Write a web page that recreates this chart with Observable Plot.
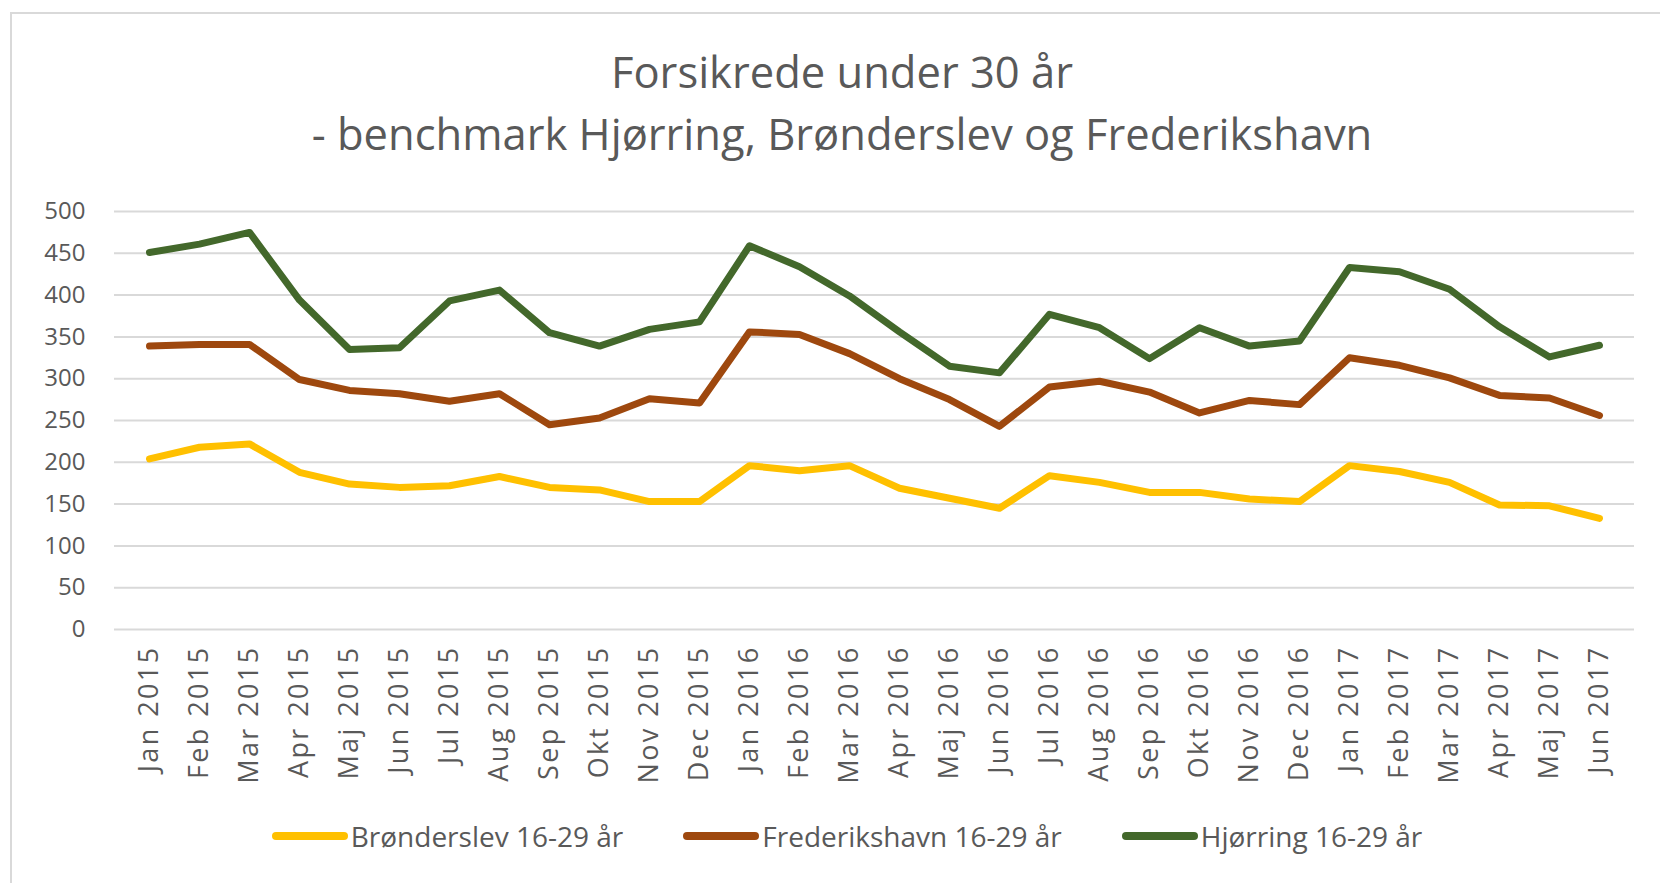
<!DOCTYPE html>
<html>
<head>
<meta charset="utf-8">
<script src="https://cdn.jsdelivr.net/npm/d3@7"></script>
<script src="https://cdn.jsdelivr.net/npm/@observablehq/plot@0.6"></script>
<style>
  html, body { margin: 0; padding: 0; background: #ffffff; }
  #wrap { position: relative; width: 1660px; height: 883px; overflow: hidden; background: #fff; font-family: "Open Sans", sans-serif; color: #595959; }
  #frame { position: absolute; left: 10px; top: 12px; width: 1700px; height: 900px; border: 2px solid #d9d9d9; box-sizing: border-box; }
  .title { position: absolute; left: 0; width: 1684px; text-align: center; font-size: 43.5px; line-height: 56px; white-space: nowrap; }
  #chart { position: absolute; left: 0; top: 190px; }
  #legend { position: absolute; left: 0; width: 1694px; top: 817px; display: flex; justify-content: center; gap: 60px; font-size: 28px; line-height: 38px; }
  .item { display: flex; align-items: center; }
  .sw { display: inline-block; width: 76px; height: 8px; border-radius: 4px; margin-right: 3px; }
</style>
</head>
<body>
<div id="wrap">
  <div id="frame"></div>
  <div class="title" id="t1" style="top:44px"></div>
  <div class="title" id="t2" style="top:106px"></div>
  <div id="chart"></div>
  <div id="legend"></div>
</div>
<script>
const titleLines = ["Forsikrede under 30 år", "- benchmark Hjørring, Brønderslev og Frederikshavn"];
const months = ["Jan 2015","Feb 2015","Mar 2015","Apr 2015","Maj 2015","Jun 2015","Jul 2015","Aug 2015","Sep 2015","Okt 2015","Nov 2015","Dec 2015",
                "Jan 2016","Feb 2016","Mar 2016","Apr 2016","Maj 2016","Jun 2016","Jul 2016","Aug 2016","Sep 2016","Okt 2016","Nov 2016","Dec 2016",
                "Jan 2017","Feb 2017","Mar 2017","Apr 2017","Maj 2017","Jun 2017"];
const bronderslev = [204,218,222,188,174,170,172,183,170,167,153,153,196,190,196,169,157,145,184,176,164,164,156,153,196,189,176,149,148,133];
const frederikshavn = [339,341,341,299,286,282,273,282,245,253,276,271,356,353,330,300,275,243,290,297,284,259,274,269,325,316,301,280,277,256];
const hjorring = [451,461,475,394,335,337,393,406,355,339,359,368,459,434,399,356,315,307,377,361,324,361,339,345,433,428,407,362,326,340];
const seriesNames = ["Brønderslev 16-29 år","Frederikshavn 16-29 år","Hjørring 16-29 år"];
const seriesColors = ["#FFC000","#9E480E","#43682B"];
const yTicks = [0,50,100,150,200,250,300,350,400,450,500];

document.getElementById("t1").textContent = titleLines[0];
document.getElementById("t2").textContent = titleLines[1];

const seriesValues = [bronderslev, frederikshavn, hjorring];
const data = [];
seriesNames.forEach((s, i) => {
  seriesValues[i].forEach((v, j) => data.push({month: months[j], value: v, series: s}));
});

const chart = Plot.plot({
  width: 1660,
  height: 600,
  marginTop: 21,
  marginBottom: 161,
  marginLeft: 114,
  marginRight: 26,
  x: {type: "point", domain: months, padding: 0.5, label: null},
  y: {domain: [0, 500], label: null},
  color: {domain: seriesNames, range: seriesColors},
  style: {fontFamily: "Open Sans, sans-serif", color: "#595959", background: "transparent"},
  marks: [
    Plot.ruleY(yTicks, {stroke: "#d9d9d9", strokeWidth: 2}),
    Plot.axisY({ticks: yTicks, tickSize: 0, tickPadding: 29, fontSize: 24, label: null}),
    Plot.axisX({tickSize: 0, tickRotate: -90, tickPadding: 16, fontSize: 27, label: null}),
    Plot.line(data, {x: "month", y: "value", z: "series", stroke: "series", strokeWidth: 7, strokeLinejoin: "round", strokeLinecap: "round"})
  ]
});
d3.select(chart).selectAll('g[aria-label="x-axis tick label"] text').attr("letter-spacing", "2.4px");
document.getElementById("chart").appendChild(chart);

const legend = document.getElementById("legend");
seriesNames.forEach((s, i) => {
  const it = document.createElement("div");
  it.className = "item";
  const sw = document.createElement("span");
  sw.className = "sw";
  sw.style.background = seriesColors[i];
  const tx = document.createElement("span");
  tx.textContent = s;
  it.appendChild(sw);
  it.appendChild(tx);
  legend.appendChild(it);
});
</script>
</body>
</html>
